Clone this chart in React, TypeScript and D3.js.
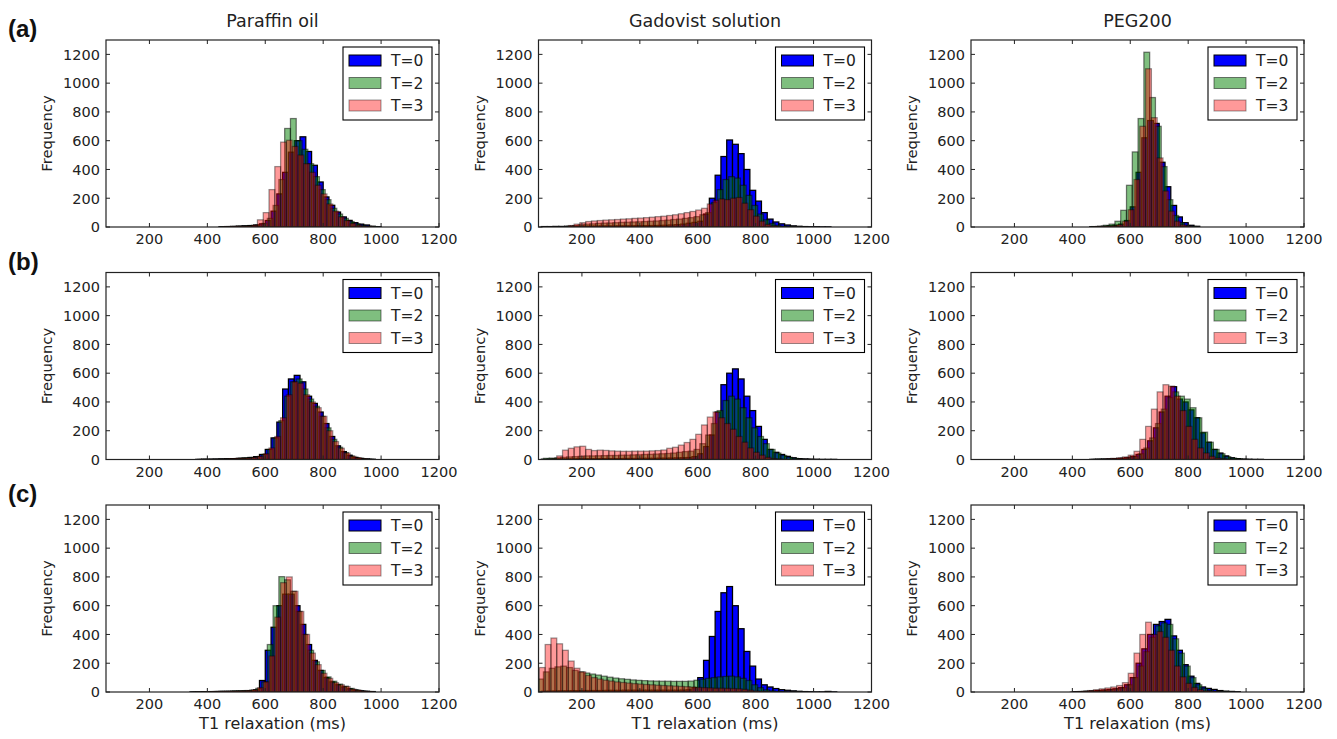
import React from "react";
import * as d3 from "d3";

const width = 1337;
const height = 739;
const binWidth = 20;

const columnTitles = ["Paraffin oil", "Gadovist solution", "PEG200"];
const rowLabels = ["(a)", "(b)", "(c)"];
const seriesNames = ["T=0", "T=2", "T=3"];
const xTicks = [200, 400, 600, 800, 1000, 1200];
const yTicks = [0, 200, 400, 600, 800, 1000, 1200];

// first bin edge (ms) of each series in a panel: [T=0, T=2, T=3]
// counts are per 20 ms bin

// row (a)
const paraffinA_start = [440, 447, 453];
const paraffinA_T0 = [2, 3, 4, 6, 8, 10, 14, 22, 45, 110, 230, 380, 520, 600, 627, 525, 429, 313, 209, 151, 104, 70, 46, 30, 20, 14, 5, 2];
const paraffinA_T2 = [2, 3, 4, 6, 8, 10, 14, 25, 60, 150, 330, 685, 754, 600, 540, 440, 350, 260, 190, 130, 90, 60, 38, 22, 12, 6, 3];
const paraffinA_T3 = [2, 3, 4, 5, 7, 12, 50, 100, 260, 420, 590, 603, 560, 500, 440, 380, 290, 230, 160, 110, 70, 45, 25, 12, 6, 3];

const gadovistA_start = [60, 147, 153];
const gadovistA_T0 = [3, 3, 4, 4, 5, 5, 5, 6, 6, 6, 7, 7, 7, 8, 8, 8, 9, 9, 10, 10, 11, 12, 14, 16, 20, 26, 32, 40, 90, 200, 360, 490, 605, 575, 510, 400, 255, 180, 100, 55, 35, 22, 14, 8, 5, 3, 2, 2, 1, 1];
const gadovistA_T2 = [5, 10, 15, 20, 22, 25, 27, 28, 30, 32, 33, 35, 36, 38, 40, 42, 45, 48, 52, 55, 60, 65, 72, 85, 100, 170, 260, 330, 350, 340, 290, 220, 150, 90, 50, 25, 12, 6, 3];
const gadovistA_T3 = [10, 20, 30, 38, 42, 45, 48, 50, 52, 55, 57, 60, 62, 65, 68, 72, 75, 80, 85, 92, 100, 108, 118, 130, 160, 185, 195, 190, 200, 205, 165, 120, 75, 40, 18, 8, 3];

const pegA_start = [460, 467, 473];
const pegA_T0 = [2, 3, 5, 8, 12, 20, 45, 140, 380, 620, 740, 720, 450, 280, 150, 70, 30, 12, 5];
const pegA_T2 = [3, 6, 12, 20, 40, 116, 290, 522, 754, 1215, 900, 700, 420, 190, 80, 30, 10, 4];
const pegA_T3 = [2, 3, 5, 8, 15, 40, 120, 330, 700, 1100, 760, 480, 250, 110, 40, 15, 5];

// row (b)
const paraffinB_start = [360, 367, 373];
const paraffinB_T0 = [1, 2, 2, 3, 4, 5, 6, 8, 10, 14, 20, 35, 70, 150, 260, 490, 560, 585, 540, 440, 390, 330, 250, 160, 95, 55, 30, 15, 8, 4, 2];
const paraffinB_T2 = [1, 2, 2, 3, 4, 5, 6, 10, 12, 14, 20, 35, 70, 150, 270, 440, 540, 560, 490, 420, 370, 300, 220, 140, 85, 48, 25, 12, 6, 3];
const paraffinB_T3 = [1, 2, 2, 3, 4, 6, 7, 8, 10, 14, 22, 40, 80, 160, 290, 450, 540, 530, 450, 400, 360, 300, 200, 125, 78, 45, 22, 12, 5, 2];

const gadovistB_start = [60, 67, 93];
const gadovistB_T0 = [2, 3, 3, 4, 4, 4, 5, 5, 5, 5, 6, 6, 6, 6, 7, 7, 7, 8, 8, 8, 9, 9, 10, 11, 12, 14, 20, 40, 90, 170, 330, 520, 600, 630, 560, 440, 340, 230, 140, 70, 50, 35, 22, 12, 6, 4, 3, 2, 1, 1, 1];
const gadovistB_T2 = [8, 10, 12, 15, 18, 20, 22, 25, 25, 26, 27, 28, 28, 30, 30, 32, 33, 35, 36, 38, 40, 42, 45, 50, 55, 58, 70, 110, 170, 250, 340, 410, 440, 420, 360, 290, 220, 160, 110, 70, 45, 28, 15, 8, 4, 2];
const gadovistB_T3 = [5, 25, 65, 78, 88, 92, 70, 62, 65, 63, 60, 58, 57, 57, 58, 58, 58, 60, 62, 66, 78, 85, 100, 118, 140, 175, 240, 295, 330, 290, 250, 210, 160, 120, 80, 50, 30, 15, 6, 3];

const pegB_start = [460, 467, 473];
const pegB_T0 = [1, 2, 3, 4, 5, 8, 12, 20, 35, 70, 130, 220, 330, 440, 506, 420, 400, 345, 290, 185, 120, 70, 45, 25, 12, 6, 3, 2, 1, 1];
const pegB_T2 = [1, 2, 3, 4, 6, 9, 14, 22, 40, 80, 150, 250, 350, 430, 470, 440, 420, 360, 290, 190, 120, 70, 40, 20, 10, 5, 2];
const pegB_T3 = [2, 3, 5, 8, 12, 18, 30, 57, 140, 230, 350, 470, 520, 510, 440, 340, 230, 140, 80, 45, 22, 10, 5, 2];

// row (c)
const paraffinC_start = [340, 347, 353];
const paraffinC_T0 = [1, 1, 2, 2, 3, 4, 4, 5, 6, 7, 8, 15, 80, 290, 450, 600, 680, 680, 600, 470, 330, 220, 150, 100, 70, 50, 35, 22, 14, 8, 5, 3];
const paraffinC_T2 = [1, 1, 2, 3, 4, 5, 6, 8, 9, 10, 14, 25, 70, 330, 600, 802, 780, 700, 560, 400, 290, 210, 150, 105, 75, 55, 40, 25, 14, 7, 3];
const paraffinC_T3 = [1, 1, 2, 3, 4, 5, 6, 7, 8, 10, 15, 30, 70, 250, 520, 760, 800, 700, 560, 400, 270, 190, 130, 95, 65, 50, 38, 20, 12, 6, 3];

const gadovistC_start = [60, 47, 53];
const gadovistC_T0 = [5, 6, 7, 8, 8, 9, 9, 10, 10, 10, 10, 11, 11, 11, 12, 12, 12, 12, 12, 12, 12, 12, 12, 12, 13, 15, 30, 100, 220, 386, 560, 690, 733, 600, 440, 282, 180, 90, 50, 35, 24, 16, 12, 8, 5, 3, 2, 1, 1, 4, 1];
const gadovistC_T2 = [90, 140, 165, 175, 180, 170, 150, 140, 132, 125, 118, 110, 103, 97, 92, 88, 84, 81, 79, 77, 76, 75, 75, 74, 74, 74, 76, 82, 88, 95, 100, 105, 108, 110, 105, 95, 80, 50, 30, 15, 8, 4, 2];
const gadovistC_T3 = [170, 330, 375, 335, 290, 215, 165, 140, 115, 100, 90, 82, 76, 70, 66, 62, 58, 55, 52, 50, 47, 45, 43, 41, 39, 37, 35, 32, 30, 28, 26, 26, 25, 24, 22, 18, 12, 7, 4, 2];

const pegC_start = [400, 407, 393];
const pegC_T0 = [2, 3, 5, 7, 10, 13, 17, 22, 30, 50, 100, 200, 300, 400, 470, 490, 505, 390, 290, 190, 110, 60, 35, 25, 18, 10, 6, 4, 2];
const pegC_T2 = [2, 3, 5, 7, 10, 13, 17, 22, 30, 50, 100, 180, 280, 380, 460, 480, 470, 370, 270, 180, 100, 50, 25, 12, 6, 3, 2];
const pegC_T3 = [2, 3, 5, 10, 16, 22, 28, 35, 45, 65, 130, 270, 400, 485, 400, 420, 380, 290, 180, 105, 60, 32, 16, 8, 4, 2];

const makeSeries = (starts: number[], lists: number[][]) =>
  lists.map((counts, i) => ({ start: starts[i], counts }));

const panelRows = [
  [
    makeSeries(paraffinA_start, [paraffinA_T0, paraffinA_T2, paraffinA_T3]),
    makeSeries(gadovistA_start, [gadovistA_T0, gadovistA_T2, gadovistA_T3]),
    makeSeries(pegA_start, [pegA_T0, pegA_T2, pegA_T3]),
  ],
  [
    makeSeries(paraffinB_start, [paraffinB_T0, paraffinB_T2, paraffinB_T3]),
    makeSeries(gadovistB_start, [gadovistB_T0, gadovistB_T2, gadovistB_T3]),
    makeSeries(pegB_start, [pegB_T0, pegB_T2, pegB_T3]),
  ],
  [
    makeSeries(paraffinC_start, [paraffinC_T0, paraffinC_T2, paraffinC_T3]),
    makeSeries(gadovistC_start, [gadovistC_T0, gadovistC_T2, gadovistC_T3]),
    makeSeries(pegC_start, [pegC_T0, pegC_T2, pegC_T3]),
  ],
];

const colLeft = [106, 538.5, 971];
const rowTop = [40, 272.5, 505];
const plotW = 333;
const plotH = 187;
const font = "'DejaVu Sans', sans-serif";
const ink = "#222";

const seriesStyle = [
  { fill: "#0000ff", alpha: 1 },
  { fill: "#008000", alpha: 0.5 },
  { fill: "#ff0000", alpha: 0.4 },
];

type Series = { start: number; counts: number[] };

function Panel(props: {
  left: number;
  top: number;
  series: Series[];
  id: string;
  title?: string;
  showXLabel: boolean;
}) {
  const { left, top, series, id } = props;
  const x = d3.scaleLinear().domain([50, 1200]).range([0, plotW]);
  const y = d3.scaleLinear().domain([0, 1300]).range([plotH, 0]);

  const legendW = 89;
  const legendH = 73;
  const lx = plotW - 7 - legendW;
  const ly = 7;

  return (
    <g transform={`translate(${left},${top})`}>
      <defs>
        <clipPath id={id}>
          <rect width={plotW} height={plotH} />
        </clipPath>
      </defs>
      <g clipPath={`url(#${id})`}>
        {series.map((s, si) =>
          s.counts.map((c, i) => {
            const x0 = x(s.start + i * binWidth);
            const x1 = x(s.start + (i + 1) * binWidth);
            return (
              <rect
                key={si + "-" + i}
                x={x0}
                y={y(c)}
                width={x1 - x0}
                height={y(0) - y(c)}
                fill={seriesStyle[si].fill}
                fillOpacity={seriesStyle[si].alpha}
                stroke="#000"
                strokeOpacity={seriesStyle[si].alpha}
                strokeWidth={1.25}
              />
            );
          })
        )}
      </g>

      {/* ticks inside, on all four sides */}
      {xTicks.map((t) => (
        <g key={"xt" + t}>
          <line x1={x(t)} x2={x(t)} y1={plotH} y2={plotH - 4} stroke={ink} />
          <line x1={x(t)} x2={x(t)} y1={0} y2={4} stroke={ink} />
          <text
            x={x(t)}
            y={plotH + 17}
            textAnchor="middle"
            fontFamily={font}
            fontSize={14.5}
            fill={ink}
          >
            {t}
          </text>
        </g>
      ))}
      {yTicks.map((t) => (
        <g key={"yt" + t}>
          <line x1={0} x2={4} y1={y(t)} y2={y(t)} stroke={ink} />
          <line x1={plotW} x2={plotW - 4} y1={y(t)} y2={y(t)} stroke={ink} />
          <text
            x={-6}
            y={y(t) + 5.3}
            textAnchor="end"
            fontFamily={font}
            fontSize={14.5}
            fill={ink}
          >
            {t}
          </text>
        </g>
      ))}
      <rect width={plotW} height={plotH} fill="none" stroke={ink} strokeWidth={1.2} />

      <text
        transform={`translate(-54,${plotH / 2}) rotate(-90)`}
        textAnchor="middle"
        fontFamily={font}
        fontSize={14.8}
        fill={ink}
      >
        Frequency
      </text>

      {props.title && (
        <text
          x={plotW / 2}
          y={-13.5}
          textAnchor="middle"
          fontFamily={font}
          fontSize={17.5}
          fill={ink}
        >
          {props.title}
        </text>
      )}
      {props.showXLabel && (
        <text
          x={plotW / 2}
          y={plotH + 36.5}
          textAnchor="middle"
          fontFamily={font}
          fontSize={16}
          fill={ink}
        >
          T1 relaxation (ms)
        </text>
      )}

      <g transform={`translate(${lx},${ly})`}>
        <rect width={legendW} height={legendH} fill="#fff" stroke="#000" strokeWidth={1.1} />
        {seriesNames.map((name, i) => {
          const cy = 13.5 + i * 22.5;
          return (
            <g key={name}>
              <rect
                x={6}
                y={cy - 5.5}
                width={32}
                height={11}
                fill={seriesStyle[i].fill}
                fillOpacity={seriesStyle[i].alpha}
                stroke="#000"
                strokeOpacity={seriesStyle[i].alpha}
              />
              <text x={48} y={cy + 5.5} fontFamily={font} fontSize={15.5} fill={ink}>
                {name}
              </text>
            </g>
          );
        })}
      </g>
    </g>
  );
}

export default function App() {
  return (
    <svg
      width={width}
      height={height}
      style={{ position: "absolute", left: 0, top: 0, background: "#fff" }}
    >
      {panelRows.map((row, ri) => (
        <g key={"row" + ri}>
          <text
            x={8}
            y={rowTop[ri] - 3}
            fontFamily="'Liberation Sans', Arial, sans-serif"
            fontWeight="bold"
            fontSize={24}
            fill="#111"
          >
            {rowLabels[ri]}
          </text>
          {row.map((series, ci) => (
            <Panel
              key={"p" + ri + ci}
              id={"clip" + ri + ci}
              left={colLeft[ci]}
              top={rowTop[ri]}
              series={series}
              title={ri === 0 ? columnTitles[ci] : undefined}
              showXLabel={ri === 2}
            />
          ))}
        </g>
      ))}
    </svg>
  );
}
